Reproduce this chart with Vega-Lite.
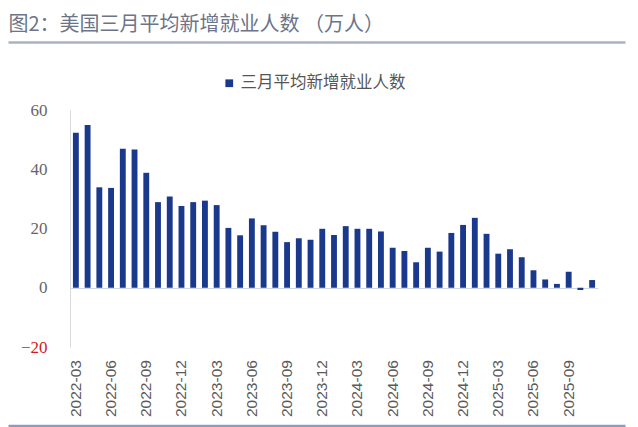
{
  "$schema": "https://vega.github.io/schema/vega-lite/v6.json",
  "width": 528,
  "height": 237,
  "autosize": "none",
  "padding": {"left": 70, "top": 110, "right": 40, "bottom": 80},
  "background": "white",
  "config": {"view": {"stroke": null}, "font": "Noto Sans CJK SC"},
  "data": {
    "values": [
      {"month": "2022-03", "value": 52.3, "series": "三月平均新增就业人数"},
      {"month": "2022-04", "value": 54.9, "series": "三月平均新增就业人数"},
      {"month": "2022-05", "value": 33.9, "series": "三月平均新增就业人数"},
      {"month": "2022-06", "value": 33.7, "series": "三月平均新增就业人数"},
      {"month": "2022-07", "value": 46.9, "series": "三月平均新增就业人数"},
      {"month": "2022-08", "value": 46.7, "series": "三月平均新增就业人数"},
      {"month": "2022-09", "value": 38.8, "series": "三月平均新增就业人数"},
      {"month": "2022-10", "value": 28.9, "series": "三月平均新增就业人数"},
      {"month": "2022-11", "value": 30.8, "series": "三月平均新增就业人数"},
      {"month": "2022-12", "value": 27.6, "series": "三月平均新增就业人数"},
      {"month": "2023-01", "value": 28.9, "series": "三月平均新增就业人数"},
      {"month": "2023-02", "value": 29.4, "series": "三月平均新增就业人数"},
      {"month": "2023-03", "value": 27.9, "series": "三月平均新增就业人数"},
      {"month": "2023-04", "value": 20.2, "series": "三月平均新增就业人数"},
      {"month": "2023-05", "value": 17.7, "series": "三月平均新增就业人数"},
      {"month": "2023-06", "value": 23.4, "series": "三月平均新增就业人数"},
      {"month": "2023-07", "value": 21.1, "series": "三月平均新增就业人数"},
      {"month": "2023-08", "value": 18.9, "series": "三月平均新增就业人数"},
      {"month": "2023-09", "value": 15.4, "series": "三月平均新增就业人数"},
      {"month": "2023-10", "value": 16.7, "series": "三月平均新增就业人数"},
      {"month": "2023-11", "value": 16.2, "series": "三月平均新增就业人数"},
      {"month": "2023-12", "value": 19.9, "series": "三月平均新增就业人数"},
      {"month": "2024-01", "value": 17.8, "series": "三月平均新增就业人数"},
      {"month": "2024-02", "value": 20.8, "series": "三月平均新增就业人数"},
      {"month": "2024-03", "value": 19.9, "series": "三月平均新增就业人数"},
      {"month": "2024-04", "value": 19.9, "series": "三月平均新增就业人数"},
      {"month": "2024-05", "value": 19.0, "series": "三月平均新增就业人数"},
      {"month": "2024-06", "value": 13.5, "series": "三月平均新增就业人数"},
      {"month": "2024-07", "value": 12.4, "series": "三月平均新增就业人数"},
      {"month": "2024-08", "value": 8.6, "series": "三月平均新增就业人数"},
      {"month": "2024-09", "value": 13.5, "series": "三月平均新增就业人数"},
      {"month": "2024-10", "value": 12.2, "series": "三月平均新增就业人数"},
      {"month": "2024-11", "value": 18.5, "series": "三月平均新增就业人数"},
      {"month": "2024-12", "value": 21.2, "series": "三月平均新增就业人数"},
      {"month": "2025-01", "value": 23.6, "series": "三月平均新增就业人数"},
      {"month": "2025-02", "value": 18.2, "series": "三月平均新增就业人数"},
      {"month": "2025-03", "value": 11.5, "series": "三月平均新增就业人数"},
      {"month": "2025-04", "value": 13.0, "series": "三月平均新增就业人数"},
      {"month": "2025-05", "value": 10.3, "series": "三月平均新增就业人数"},
      {"month": "2025-06", "value": 5.9, "series": "三月平均新增就业人数"},
      {"month": "2025-07", "value": 2.8, "series": "三月平均新增就业人数"},
      {"month": "2025-08", "value": 1.3, "series": "三月平均新增就业人数"},
      {"month": "2025-09", "value": 5.4, "series": "三月平均新增就业人数"},
      {"month": "2025-10", "value": -0.8, "series": "三月平均新增就业人数"},
      {"month": "2025-11", "value": 2.6, "series": "三月平均新增就业人数"}
    ]
  },
  "resolve": {"scale": {"x": "independent"}, "axis": {"x": "independent"}},
  "layer": [
    {
      "mark": {"type": "bar"},
      "encoding": {
        "x": {
          "field": "month",
          "type": "ordinal",
          "sort": null,
          "scale": {"paddingInner": 0.5, "paddingOuter": 0.25},
          "axis": {
            "orient": "bottom",
            "offset": 78.5,
            "values": ["2022-03","2022-06","2022-09","2022-12","2023-03","2023-06","2023-09","2023-12","2024-03","2024-06","2024-09","2024-12","2025-03","2025-06","2025-09"],
            "labelAngle": 270,
            "labelAlign": "left",
            "labelBaseline": "middle",
            "labelPadding": -9,
            "ticks": false,
            "grid": false,
            "domain": false,
            "labelFont": "Liberation Sans",
            "labelFontSize": 15.5,
            "labelColor": "#5a5a5a",
            "labelOverlap": false,
            "title": null
          }
        },
        "y": {
          "field": "value",
          "type": "quantitative",
          "scale": {"domain": [-20, 60], "nice": false, "zero": false},
          "axis": {
            "orient": "left",
            "values": [-20, 0, 20, 40, 60],
            "ticks": false,
            "grid": true,
            "gridColor": "#cfd6e4",
            "gridOpacity": {"condition": {"test": "datum.value === 0", "value": 1}, "value": 0},
            "domainColor": "#d9d9d9",
            "domainWidth": 1,
            "labelPadding": 23,
            "labelFont": "Liberation Serif",
            "labelFontSize": 17,
            "labelColor": {"condition": {"test": "datum.value < 0", "value": "#d0191e"}, "value": "#666666"},
            "title": null
          }
        },
        "color": {
          "field": "series",
          "type": "nominal",
          "scale": {"range": ["#1a388c"]},
          "legend": {
            "orient": "none",
            "legendX": 151,
            "legendY": -35,
            "direction": "horizontal",
            "title": null,
            "symbolType": "square",
            "symbolSize": 60,
            "symbolStrokeWidth": 0,
            "labelFont": "Noto Sans CJK SC",
            "labelFontSize": 16.5,
            "labelColor": "#555555",
            "labelOffset": 3,
            "labelLimit": 400,
            "padding": 0
          }
        }
      }
    },
    {
      "mark": {"type": "point", "opacity": 0},
      "encoding": {
        "x": {
          "field": "value",
          "type": "quantitative",
          "scale": {"range": [-62, 555]},
          "axis": {
            "orient": "top",
            "offset": 68,
            "labels": false,
            "ticks": false,
            "grid": false,
            "domainColor": "#aab1c4",
            "domainWidth": 2.5,
            "title": "图2：美国三月平均新增就业人数 （万人）",
            "titleAnchor": "start",
            "titleAlign": "left",
            "titleX": -62,
            "titleY": -18,
            "titleBaseline": "middle",
            "titleFont": "Noto Sans CJK SC",
            "titleFontSize": 20,
            "titleFontWeight": "normal",
            "titleColor": "#6b7489"
          }
        }
      }
    },
    {
      "mark": {"type": "point", "opacity": 0},
      "encoding": {
        "x": {
          "field": "value",
          "type": "quantitative",
          "scale": {"range": [-62, 555]},
          "axis": {
            "orient": "bottom",
            "offset": 78.5,
            "labels": false,
            "ticks": false,
            "grid": false,
            "domainColor": "#8e9cbb",
            "domainWidth": 2.5,
            "title": null
          }
        }
      }
    }
  ]
}
